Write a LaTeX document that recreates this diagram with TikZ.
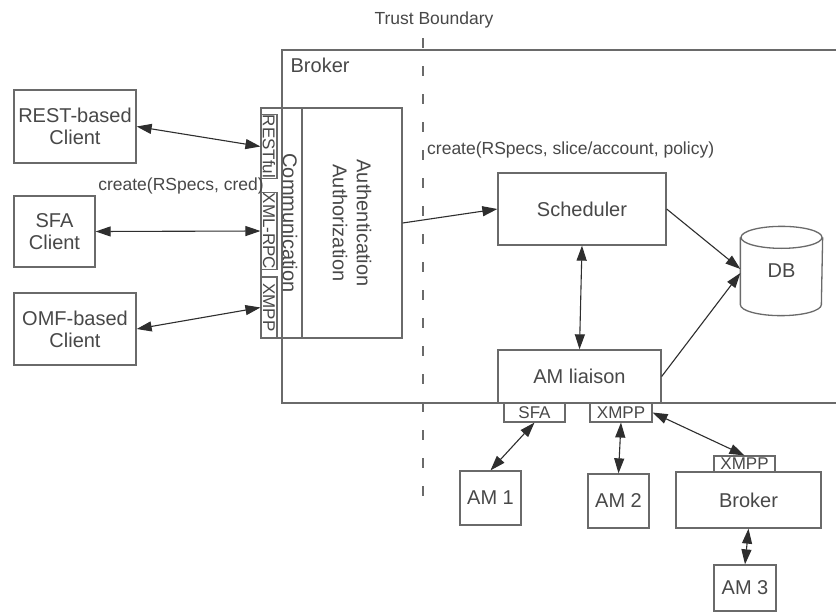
\documentclass[tikz,border=0pt]{standalone}
\usepackage{fontspec}
\setmainfont{Liberation Sans}
\usepackage{tikz}
\usetikzlibrary{arrows.meta}

\definecolor{linegray}{HTML}{6A6A6A}
\definecolor{textgray}{HTML}{484848}
\definecolor{arrowgray}{HTML}{2E2E2E}

\tikzset{
  box/.style={draw=linegray, line width=1.3pt, text=textgray, inner sep=0pt, align=center,
    font=\fontsize{20}{22}\selectfont},
  tag/.style={draw=linegray, line width=1.1pt, text=textgray, inner sep=0pt,
    font=\fontsize{17}{19}\selectfont},
  note/.style={text=textgray, inner sep=0pt, font=\fontsize{17.5}{19}\selectfont},
  link/.style={arrowgray, line width=1.1pt},
  cyl/.style={linegray, line width=1.3pt}
}

\begin{document}
\begin{tikzpicture}[x=1pt,y=-1pt,>={Triangle[length=15pt,width=10pt]}]
\clip (0,0) rectangle (836,613);
\fill[white] (0,0) rectangle (836,613);
% trust boundary
\node[note] (trust) at (434,20) {Trust Boundary};
\draw[linegray, line width=1.2pt, dash pattern=on 10pt off 18pt] (423,38) -- (423,512);
% broker
\node[box, minimum width=558, minimum height=353] (broker) at (561,226.5) {};
\node[box, draw=none, anchor=west] (brokerlabel) at (290,65) {Broker};
% clients
\node[box, minimum width=122, minimum height=73] (rest) at (75,126.5) {REST-based\\Client};
\node[box, minimum width=81, minimum height=71] (sfa) at (54.5,231.5) {SFA\\Client};
\node[box, minimum width=122, minimum height=72] (omf) at (75,329) {OMF-based\\Client};
% communication
\node[box, minimum width=41, minimum height=230] (comm) at (281.5,223) {};
\node[box, draw=none, rotate=-90] (commlabel) at (290,223) {Communication};
\node[tag, rotate=-90, minimum width=63, minimum height=16] (restful) at (269,146.5) {RESTful};
\node[tag, rotate=-90, minimum width=72, minimum height=16] (xmlrpc) at (269,231) {XML-RPC};
\node[tag, rotate=-90, minimum width=61, minimum height=16] (xmppc) at (269,307.5) {XMPP};
\node[box, rotate=-90, minimum width=230, minimum height=100, font=\fontsize{20}{24}\selectfont] (auth) at (352,223) {Authentication\\Authorization};
% core
\node[box, minimum width=168, minimum height=72] (sched) at (582,209) {Scheduler};
\node[box, minimum width=163, minimum height=53] (liaison) at (579.5,376.5) {AM liaison};
\node[box, draw=none, minimum width=81, minimum height=88] (db) at (781.5,271) {\raisebox{-6pt}{DB}};
\draw[cyl] ([yshift=-11pt]db.north west) -- ([yshift=11pt]db.south west)
  arc[start angle=180, end angle=360, x radius=40.5pt, y radius=11pt] -- ([yshift=-11pt]db.north east);
\draw[cyl] ([yshift=-11pt]db.north) ellipse [x radius=40.5pt, y radius=11pt];
\node[tag, minimum width=61, minimum height=19] (sfal) at (534.5,412.5) {SFA};
\node[tag, minimum width=62, minimum height=19] (xmppl) at (621,412.5) {XMPP};
% aggregates
\node[box, minimum width=61, minimum height=54] (am1) at (490.5,498) {AM 1};
\node[box, minimum width=61, minimum height=54] (am2) at (618.5,501) {AM 2};
\node[box, minimum width=145, minimum height=56] (broker2) at (748.5,500) {Broker};
\node[tag, minimum width=61, minimum height=16] (xmppb) at (744.5,464) {XMPP};
\node[box, minimum width=62, minimum height=46] (am3) at (745,588) {AM 3};
% labels
\node[note] (credlabel) at (181,186) {create(RSpecs, cred)};
\node[note, anchor=west] (slicelabel) at (427,150) {create(RSpecs, slice/account, policy)};
% links
\draw[link, <->] (rest.east) -- (restful.south);
\draw[link, <->] (sfa.east) -- (xmlrpc.south);
\draw[link, <->] (omf.east) -- (xmppc.south);
\draw[link, ->] (auth.north) -- (sched.west);
\draw[link, ->] (sched.east) -- ([yshift=2pt]db.west);
\draw[link, ->] (liaison.east) -- ([yshift=-2pt]db.west);
\draw[link, <->] (sched.south) -- (liaison.north);
\draw[link, <->] (sfal.south) -- (am1.north);
\draw[link, <->] (xmppl.south) -- (am2.north);
\draw[link, <->] (xmppl.east) -- (xmppb.north);
\draw[link, <->] (broker2.south) -- (am3.north);
\end{tikzpicture}
\end{document}
